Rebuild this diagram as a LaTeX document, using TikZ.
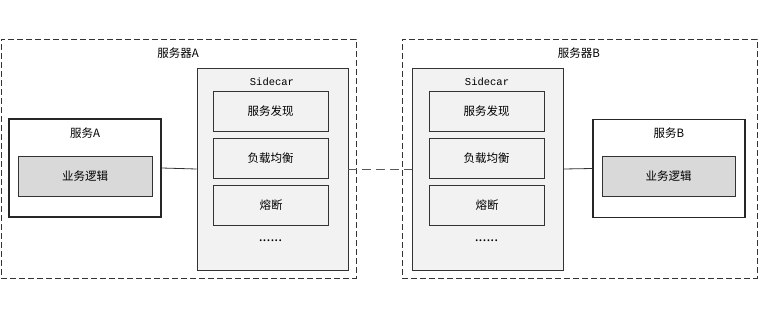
\documentclass[tikz,border=0pt]{standalone}
\usepackage{fontspec}
\setmainfont{Noto Sans CJK SC}
\newfontfamily\monofont{Liberation Mono}
\usepackage{xcolor}
\definecolor{boxline}{HTML}{333333}
\definecolor{carfill}{HTML}{F2F2F2}
\definecolor{logicfill}{HTML}{D9D9D9}

\tikzset{
  server/.style={draw=boxline, dashed, dash pattern=on 6pt off 3pt, line width=0.9pt, inner sep=0pt},
  carbox/.style={draw=boxline, fill=carfill, line width=0.8pt, inner sep=0pt},
  funcbox/.style={draw=boxline, fill=carfill, line width=0.8pt, inner sep=0pt,
    minimum width=115pt, minimum height=40pt, font=\fontsize{11.5}{13}\selectfont},
  svcbox/.style={draw=black!85, fill=white, line width=1.4pt, inner sep=0pt,
    minimum width=152pt, minimum height=98pt},
  logicbox/.style={draw=boxline, fill=logicfill, line width=0.8pt, inner sep=0pt,
    minimum height=40pt, font=\fontsize{11.5}{13}\selectfont},
  lbl/.style={font=\fontsize{11.5}{13}\selectfont, inner sep=0pt}
}

\begin{document}
\begin{tikzpicture}[x=1pt, y=-1pt]
  \useasboundingbox (0,0) rectangle (758,319);
  % Server frames
  \node[server, minimum width=355pt, minimum height=239pt] (srvA) at (178.5,158.5) {};
  \node[server, minimum width=355pt, minimum height=239pt] (srvB) at (579.5,158.5) {};
  \node[lbl] (srvAlbl) at (178,53) {服务器A};
  \node[lbl] (srvBlbl) at (579,53) {服务器B};
  % Sidecars
  \node[carbox, minimum width=151pt, minimum height=202pt] (carA) at (272.5,169) {};
  \node[carbox, minimum width=151pt, minimum height=202pt] (carB) at (487.5,169) {};
  \node[lbl, font=\monofont\fontsize{10.5}{13}\selectfont] (carAlbl) at (272,82) {Sidecar};
  \node[lbl, font=\monofont\fontsize{10.5}{13}\selectfont] (carBlbl) at (487,82) {Sidecar};
  \foreach \side/\cx in {A/270.5, B/486.5} {
    \node[funcbox] (disc\side) at (\cx,111) {服务发现};
    \node[funcbox] (lb\side) at (\cx,158) {负载均衡};
    \node[funcbox] (cb\side) at (\cx+0.5,205) {熔断};
    \node[lbl, font=\fontsize{14}{14}\selectfont] (more\side) at (\cx,241) {......};
  }
  % Services
  \node[svcbox] (svcA) at (85,168) {};
  \node[svcbox] (svcB) at (669,168.5) {};
  \node[lbl] (svcAlbl) at (85,133) {服务A};
  \node[lbl] (svcBlbl) at (669,133) {服务B};
  \node[logicbox, minimum width=134pt] (logicA) at (85,176) {业务逻辑};
  \node[logicbox, minimum width=133pt] (logicB) at (668.5,176) {业务逻辑};
  % Links
  \draw[line width=0.8pt, boxline] (svcA.east) -- (carA.west);
  \draw[line width=0.9pt, black!65, dash pattern=on 9pt off 5pt] (carA.east) -- (carB.west);
  \draw[line width=0.8pt, boxline] (carB.east) -- (svcB.west);
\end{tikzpicture}
\end{document}
